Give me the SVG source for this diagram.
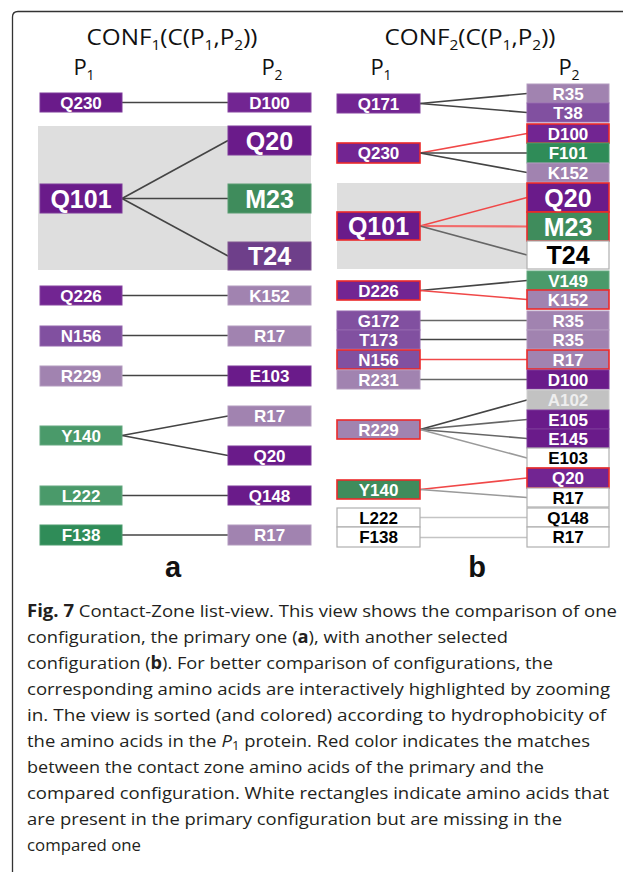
<svg xmlns="http://www.w3.org/2000/svg" width="623" height="872" viewBox="0 0 623 872">
<style>
.bg{fill:#ffffff}
.zone{fill:#dedede}
.frame{fill:none;stroke:#333;stroke-width:1.3}
.n{stroke-width:1}
.dp{fill:#6a1b8a;stroke:#7d3a99}
.p2{fill:#722592;stroke:#85449f}
.mp{fill:#8150a0;stroke:#9366ad}
.tp{fill:#6e3f8a;stroke:#80578f}
.lp{fill:#a183b0;stroke:#b39bbf}
.g1{fill:#3f8c5c;stroke:#5a9c72}
.g2{fill:#4a9a6a;stroke:#65a880}
.g3{fill:#2f8c58;stroke:#4c9c6e}
.gy{fill:#c2c2c2;stroke:#cfcfcf}
.wh{fill:#ffffff;stroke:#b0b0b0;stroke-width:1.2}
.red{stroke:#ec2a2a;stroke-width:1.6}
.t{font-family:"Liberation Sans",Arial,sans-serif;font-weight:bold;font-size:17px;fill:#fff;text-anchor:middle}
.tb{font-size:25px}
.k{fill:#000}
.lg{fill:#eeeeee}
.ttl{font-family:"Open Sans","Noto Sans",sans-serif;font-size:22px;fill:#111;text-anchor:middle}
.sub{font-size:14px}
.lbl{font-family:"Liberation Sans",Arial,sans-serif;font-weight:bold;font-size:29px;fill:#111;text-anchor:middle}
.cap{font-family:"Open Sans","Noto Sans",sans-serif;font-size:17px;fill:#231f20}
.c{fill:none;stroke-width:1.6}
.ck{stroke:#444}
.cd{stroke:#666}
.cg{stroke:#9a9a9a}
.cl{stroke:#c4c4c4}
.cr{stroke:#f04848}
</style>
<rect class="bg" x="0" y="0" width="623" height="872"/>
<path class="frame" d="M12.5,872 V17 Q12.5,11.5 18,11.5 H623"/>

<!-- titles -->
<g id="title-a">
<text class="ttl" x="172" y="45" textLength="171" lengthAdjust="spacingAndGlyphs">CONF<tspan class="sub" dy="5">1</tspan><tspan dy="-5">(C(P</tspan><tspan class="sub" dy="5">1</tspan><tspan dy="-5">,P</tspan><tspan class="sub" dy="5">2</tspan><tspan dy="-5">))</tspan></text>
<text class="ttl" x="84" y="75">P<tspan class="sub" dy="5">1</tspan></text>
<text class="ttl" x="272" y="75">P<tspan class="sub" dy="5">2</tspan></text>
</g>
<g id="title-b">
<text class="ttl" x="470" y="45" textLength="171" lengthAdjust="spacingAndGlyphs">CONF<tspan class="sub" dy="5">2</tspan><tspan dy="-5">(C(P</tspan><tspan class="sub" dy="5">1</tspan><tspan dy="-5">,P</tspan><tspan class="sub" dy="5">2</tspan><tspan dy="-5">))</tspan></text>
<text class="ttl" x="381" y="75">P<tspan class="sub" dy="5">1</tspan></text>
<text class="ttl" x="569" y="75">P<tspan class="sub" dy="5">2</tspan></text>
</g>

<!-- shaded zones -->
<rect class="zone" x="38" y="126" width="273" height="144"/>
<rect class="zone" x="337" y="183" width="190" height="86"/>

<!-- connectors -->
<g id="connectors">
<!-- panel a -->
<line class="c ck" x1="122" y1="102.5" x2="228" y2="102.5"/>
<line class="c ck" x1="122" y1="198.5" x2="228" y2="140.5"/>
<line class="c ck" x1="122" y1="198.5" x2="228" y2="198.5"/>
<line class="c ck" x1="122" y1="198.5" x2="228" y2="256"/>
<line class="c ck" x1="122" y1="295.5" x2="228" y2="295.5"/>
<line class="c ck" x1="122" y1="335.5" x2="228" y2="335.5"/>
<line class="c ck" x1="122" y1="375.5" x2="228" y2="375.5"/>
<line class="c ck" x1="122" y1="435.5" x2="228" y2="416"/>
<line class="c ck" x1="122" y1="435.5" x2="228" y2="455.5"/>
<line class="c ck" x1="122" y1="495.5" x2="228" y2="495.5"/>
<line class="c ck" x1="122" y1="535" x2="228" y2="535"/>
<!-- panel b -->
<line class="c ck" x1="420" y1="103.5" x2="527" y2="93.5"/>
<line class="c ck" x1="420" y1="103.5" x2="527" y2="112.5"/>
<line class="c cr" x1="420" y1="153" x2="527" y2="133.5"/>
<line class="c ck" x1="420" y1="153" x2="527" y2="153"/>
<line class="c ck" x1="420" y1="153" x2="527" y2="172.5"/>
<line class="c cr" x1="420" y1="226" x2="527" y2="197.5"/>
<line class="c cr" x1="420" y1="226" x2="527" y2="226.5" style="stroke-width:2.2;stroke:#f26a6a"/>
<line class="c cd" x1="420" y1="226" x2="527" y2="255"/>
<line class="c ck" x1="420" y1="290.5" x2="527" y2="280.5"/>
<line class="c cr" x1="420" y1="290.5" x2="527" y2="299.5"/>
<line class="c cd" x1="420" y1="320.5" x2="527" y2="320.5"/>
<line class="c ck" x1="420" y1="339.5" x2="527" y2="339.5"/>
<line class="c cr" x1="420" y1="359.5" x2="527" y2="359.5"/>
<line class="c cd" x1="420" y1="379.5" x2="527" y2="379.5"/>
<line class="c ck" x1="420" y1="429.5" x2="527" y2="400"/>
<line class="c cd" x1="420" y1="429.5" x2="527" y2="419.5"/>
<line class="c cd" x1="420" y1="429.5" x2="527" y2="438.5"/>
<line class="c cg" x1="420" y1="429.5" x2="527" y2="458"/>
<line class="c cr" x1="420" y1="489.5" x2="527" y2="478"/>
<line class="c cg" x1="420" y1="489.5" x2="527" y2="497.5"/>
<line class="c cl" x1="420" y1="517.5" x2="527" y2="517.5"/>
<line class="c cl" x1="420" y1="537.5" x2="527" y2="537.5"/>
</g>

<!-- panel a nodes -->
<g id="a-Q230"><rect class="n dp" x="40" y="93" width="82" height="19"/><text class="t" x="81" y="108.5">Q230</text></g>
<g id="a-D100"><rect class="n p2" x="228" y="93" width="83" height="19"/><text class="t" x="269.5" y="108.5">D100</text></g>
<g id="a-Q101"><rect class="n dp" x="40" y="184" width="82" height="29"/><text class="t tb" x="81" y="207.5">Q101</text></g>
<g id="a-Q20"><rect class="n dp" x="228" y="126" width="83" height="29"/><text class="t tb" x="269.5" y="149.5">Q20</text></g>
<g id="a-M23"><rect class="n g1" x="228" y="184" width="83" height="29"/><text class="t tb" x="269.5" y="207.5">M23</text></g>
<g id="a-T24"><rect class="n tp" x="228" y="242" width="83" height="28"/><text class="t tb" x="269.5" y="265">T24</text></g>
<g id="a-Q226"><rect class="n p2" x="40" y="286" width="82" height="19"/><text class="t" x="81" y="301.5">Q226</text></g>
<g id="a-K152"><rect class="n lp" x="228" y="286" width="83" height="19"/><text class="t" x="269.5" y="301.5">K152</text></g>
<g id="a-N156"><rect class="n mp" x="40" y="326" width="82" height="20"/><text class="t" x="81" y="342">N156</text></g>
<g id="a-R17a"><rect class="n lp" x="228" y="326" width="83" height="20"/><text class="t" x="269.5" y="342">R17</text></g>
<g id="a-R229"><rect class="n lp" x="40" y="366" width="82" height="20"/><text class="t" x="81" y="382">R229</text></g>
<g id="a-E103"><rect class="n dp" x="228" y="366" width="83" height="20"/><text class="t" x="269.5" y="382">E103</text></g>
<g id="a-Y140"><rect class="n g2" x="40" y="426" width="82" height="19"/><text class="t" x="81" y="441.5">Y140</text></g>
<g id="a-R17b"><rect class="n lp" x="228" y="406" width="83" height="20"/><text class="t" x="269.5" y="422">R17</text></g>
<g id="a-Q20b"><rect class="n dp" x="228" y="446" width="83" height="19"/><text class="t" x="269.5" y="461.5">Q20</text></g>
<g id="a-L222"><rect class="n g2" x="40" y="486" width="82" height="19"/><text class="t" x="81" y="501.5">L222</text></g>
<g id="a-Q148"><rect class="n dp" x="228" y="486" width="83" height="19"/><text class="t" x="269.5" y="501.5">Q148</text></g>
<g id="a-F138"><rect class="n g3" x="40" y="525" width="82" height="20"/><text class="t" x="81" y="541">F138</text></g>
<g id="a-R17c"><rect class="n lp" x="228" y="525" width="83" height="20"/><text class="t" x="269.5" y="541">R17</text></g>
<text class="lbl" x="173" y="577">a</text>

<!-- panel b nodes: P1 -->
<g id="b-Q171"><rect class="n p2" x="337" y="94" width="83" height="19"/><text class="t" x="378.5" y="109.5">Q171</text></g>
<g id="b-Q230"><rect class="p2 red" x="337" y="143" width="83" height="20"/><text class="t" x="378.5" y="159">Q230</text></g>
<g id="b-Q101"><rect class="dp red" x="337" y="212" width="83" height="28"/><text class="t tb" x="378.5" y="235">Q101</text></g>
<g id="b-D226"><rect class="p2 red" x="337" y="281" width="83" height="19"/><text class="t" x="378.5" y="296.5">D226</text></g>
<g id="b-G172"><rect class="n mp" x="337" y="311" width="83" height="19"/><text class="t" x="378.5" y="326.5">G172</text></g>
<g id="b-T173"><rect class="n mp" x="337" y="330" width="83" height="19"/><text class="t" x="378.5" y="345.5">T173</text></g>
<g id="b-N156"><rect class="mp red" x="337" y="350" width="83" height="19"/><text class="t" x="378.5" y="365.5">N156</text></g>
<g id="b-R231"><rect class="n lp" x="337" y="370" width="83" height="19"/><text class="t" x="378.5" y="385.5">R231</text></g>
<g id="b-R229"><rect class="lp red" x="337" y="420" width="83" height="19"/><text class="t" x="378.5" y="435.5">R229</text></g>
<g id="b-Y140"><rect class="g1 red" x="337" y="480" width="83" height="19"/><text class="t" x="378.5" y="495.5">Y140</text></g>
<g id="b-L222"><rect class="wh" x="337" y="508" width="83" height="19"/><text class="t k" x="378.5" y="523.5">L222</text></g>
<g id="b-F138"><rect class="wh" x="337" y="527" width="83" height="20"/><text class="t k" x="378.5" y="543">F138</text></g>

<!-- panel b nodes: P2 -->
<g id="b-R35a"><rect class="n lp" x="527" y="84" width="82" height="19"/><text class="t" x="568" y="99.5">R35</text></g>
<g id="b-T38"><rect class="n mp" x="527" y="103" width="82" height="19"/><text class="t" x="568" y="118.5">T38</text></g>
<g id="b-D100a"><rect class="p2 red" x="527" y="124" width="82" height="19"/><text class="t" x="568" y="139.5">D100</text></g>
<g id="b-F101"><rect class="n g3" x="527" y="143" width="82" height="20"/><text class="t" x="568" y="159">F101</text></g>
<g id="b-K152a"><rect class="n lp" x="527" y="163" width="82" height="19"/><text class="t" x="568" y="178.5">K152</text></g>
<g id="b-Q20a"><rect class="dp red" x="527" y="183" width="82" height="29"/><text class="t tb" x="568" y="206.5">Q20</text></g>
<g id="b-M23"><rect class="g1 red" x="527" y="212" width="82" height="29"/><text class="t tb" x="568" y="235.5">M23</text></g>
<g id="b-T24"><rect class="wh" x="527" y="241" width="82" height="28"/><text class="t tb k" x="568" y="264">T24</text></g>
<g id="b-V149"><rect class="n g2" x="527" y="271" width="82" height="19"/><text class="t" x="568" y="286.5">V149</text></g>
<g id="b-K152b"><rect class="lp red" x="527" y="290" width="82" height="19"/><text class="t" x="568" y="305.5">K152</text></g>
<g id="b-R35b"><rect class="n lp" x="527" y="311" width="82" height="19"/><text class="t" x="568" y="326.5">R35</text></g>
<g id="b-R35c"><rect class="n lp" x="527" y="330" width="82" height="19"/><text class="t" x="568" y="345.5">R35</text></g>
<g id="b-R17a"><rect class="lp red" x="527" y="350" width="82" height="19"/><text class="t" x="568" y="365.5">R17</text></g>
<g id="b-D100b"><rect class="n dp" x="527" y="370" width="82" height="19"/><text class="t" x="568" y="385.5">D100</text></g>
<g id="b-A102"><rect class="n gy" x="527" y="390" width="82" height="20"/><text class="t lg" x="568" y="406">A102</text></g>
<g id="b-E105"><rect class="n dp" x="527" y="410" width="82" height="19"/><text class="t" x="568" y="425.5">E105</text></g>
<g id="b-E145"><rect class="n dp" x="527" y="429" width="82" height="19"/><text class="t" x="568" y="444.5">E145</text></g>
<g id="b-E103"><rect class="wh" x="527" y="448" width="82" height="20"/><text class="t k" x="568" y="464">E103</text></g>
<g id="b-Q20b"><rect class="p2 red" x="527" y="468" width="82" height="20"/><text class="t" x="568" y="484">Q20</text></g>
<g id="b-R17b"><rect class="wh" x="527" y="488" width="82" height="19"/><text class="t k" x="568" y="503.5">R17</text></g>
<g id="b-Q148"><rect class="wh" x="527" y="508" width="82" height="19"/><text class="t k" x="568" y="523.5">Q148</text></g>
<g id="b-R17c"><rect class="wh" x="527" y="527" width="82" height="20"/><text class="t k" x="568" y="543">R17</text></g>
<text class="lbl" x="477" y="577">b</text>

<!-- caption -->
<g id="caption">
<text class="cap" x="27" y="617" textLength="590" lengthAdjust="spacingAndGlyphs"><tspan font-weight="bold">Fig. 7</tspan> Contact-Zone list-view. This view shows the comparison of one</text>
<text class="cap" x="27" y="643" textLength="481" lengthAdjust="spacingAndGlyphs">configuration, the primary one (<tspan font-weight="bold">a</tspan>), with another selected</text>
<text class="cap" x="27" y="669" textLength="526" lengthAdjust="spacingAndGlyphs">configuration (<tspan font-weight="bold">b</tspan>). For better comparison of configurations, the</text>
<text class="cap" x="27" y="695" textLength="583" lengthAdjust="spacingAndGlyphs">corresponding amino acids are interactively highlighted by zooming</text>
<text class="cap" x="27" y="721" textLength="579" lengthAdjust="spacingAndGlyphs">in. The view is sorted (and colored) according to hydrophobicity of</text>
<text class="cap" x="27" y="747" textLength="563" lengthAdjust="spacingAndGlyphs">the amino acids in the <tspan font-style="italic">P</tspan><tspan font-size="12" dy="3">1</tspan><tspan dy="-3"> protein. Red color indicates the matches</tspan></text>
<text class="cap" x="27" y="773" textLength="517" lengthAdjust="spacingAndGlyphs">between the contact zone amino acids of the primary and the</text>
<text class="cap" x="27" y="799" textLength="582" lengthAdjust="spacingAndGlyphs">compared configuration. White rectangles indicate amino acids that</text>
<text class="cap" x="27" y="825" textLength="535" lengthAdjust="spacingAndGlyphs">are present in the primary configuration but are missing in the</text>
<text class="cap" x="27" y="851" textLength="114" lengthAdjust="spacingAndGlyphs">compared one</text>
</g>
</svg>
